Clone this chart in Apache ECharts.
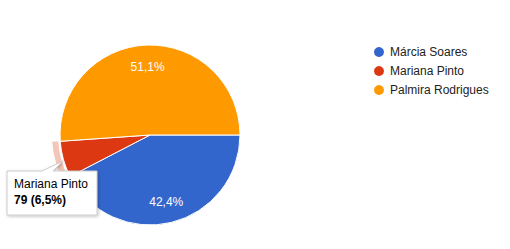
<!DOCTYPE html>
<html>
<head>
<meta charset="utf-8">
<script src="https://cdn.jsdelivr.net/npm/echarts@6/dist/echarts.min.js"></script>
<style>
html,body{margin:0;padding:0;background:#fff;}
#chart{width:510px;height:249px;}
</style>
</head>
<body>
<div id="chart"></div>
<script>
var categories = ['Márcia Soares', 'Mariana Pinto', 'Palmira Rodrigues'];
var values = [515, 79, 621];
var colors = ['#3366cc', '#dc3912', '#ff9900'];
var highlightedIndex = 1;

var total = values.reduce(function (a, b) { return a + b; }, 0);
function pct(v) { return (v / total * 100).toFixed(1).replace('.', ',') + '%'; }

var mainData = categories.map(function (c, i) {
  return { name: c, value: values[i], itemStyle: { color: colors[i] } };
});
var ringData = categories.map(function (c, i) {
  return { name: c, value: values[i], itemStyle: { color: i === highlightedIndex ? '#f5c5b8' : 'rgba(0,0,0,0)' } };
});
var labelData = categories.map(function (c, i) {
  return { name: c, value: values[i], itemStyle: { color: 'rgba(0,0,0,0)' },
           label: { show: values[i] / total > 0.1 } };
});

var chart = echarts.init(document.getElementById('chart'), null, { renderer: 'svg' });
chart.setOption({
  animation: false,
  legend: {
    orient: 'vertical',
    left: 367,
    top: 40,
    icon: 'circle',
    itemWidth: 12,
    itemHeight: 12,
    itemGap: 5,
    selectedMode: false,
    data: categories,
    textStyle: { fontFamily: 'Liberation Sans, Arial, sans-serif', fontSize: 12, color: '#222' }
  },
  series: [
    {
      type: 'pie',
      center: [150, 135],
      radius: [0, 90],
      startAngle: 0,
      clockwise: true,
      silent: true,
      data: mainData,
      label: { show: false },
      labelLine: { show: false },
      itemStyle: { borderColor: '#fff', borderWidth: 1 }
    },
    {
      type: 'pie',
      center: [150, 135],
      radius: [92, 98],
      startAngle: 0,
      clockwise: true,
      silent: true,
      data: ringData,
      label: { show: false },
      labelLine: { show: false },
      itemStyle: { borderWidth: 0 }
    },
    {
      type: 'pie',
      center: [150, 135],
      radius: [0, 131],
      startAngle: 0,
      clockwise: true,
      silent: true,
      data: labelData,
      labelLine: { show: false },
      itemStyle: { borderWidth: 0 },
      label: {
        position: 'inside',
        color: '#fff',
        fontFamily: 'Liberation Sans, Arial, sans-serif',
        fontSize: 12,
        formatter: function (p) { return pct(p.value); }
      }
    }
  ],
  graphic: [
    {
      type: 'polygon',
      shape: { points: [[7, 171], [42, 171], [63, 161], [53, 171], [97, 171], [97, 215], [7, 215]] },
      style: { fill: '#fff', stroke: '#cccccc', lineWidth: 1, shadowBlur: 3, shadowOffsetX: 1, shadowOffsetY: 1, shadowColor: 'rgba(0,0,0,0.25)' },
      z: 100
    },
    {
      type: 'text',
      left: 14,
      top: 178,
      z: 101,
      style: {
        text: categories[highlightedIndex],
        font: '12px "Liberation Sans", Arial, sans-serif',
        fill: '#000'
      }
    },
    {
      type: 'text',
      left: 14,
      top: 194,
      z: 101,
      style: {
        text: values[highlightedIndex] + ' (' + pct(values[highlightedIndex]) + ')',
        font: 'bold 12px "Liberation Sans", Arial, sans-serif',
        fill: '#000'
      }
    }
  ]
});
</script>
</body>
</html>
